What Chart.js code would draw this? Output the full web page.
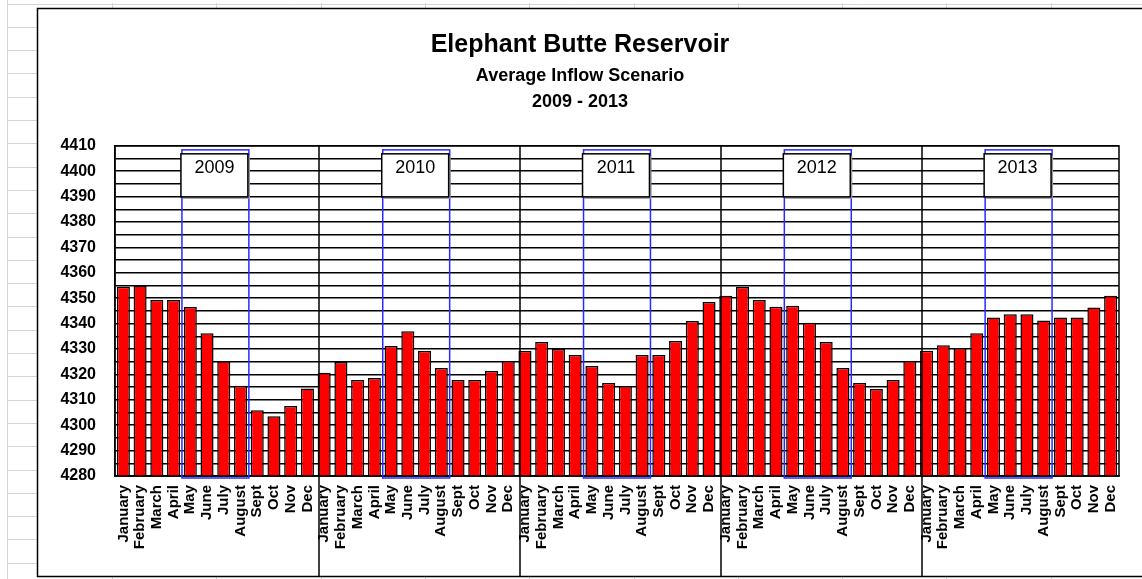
<!DOCTYPE html>
<html>
<head>
<meta charset="utf-8">
<title>Elephant Butte Reservoir</title>
<script src="https://cdn.jsdelivr.net/npm/chart.js@4"></script>
<style>
  html, body { margin: 0; padding: 0; background: #fff; }
  canvas { display: block; }
</style>
</head>
<body>
<canvas id="myChart" width="1142" height="579"></canvas>
<script>
const months = ['January', 'February', 'March', 'April', 'May', 'June',
    'July', 'August', 'Sept', 'Oct', 'Nov', 'Dec'];
const years = ['2009', '2010', '2011', '2012', '2013'];

// end-of-month elevation (ft)
const elev2009 = [4354.5, 4355, 4349.3, 4349.3, 4346.5, 4336.2, 4325.2, 4315.5, 4305.9, 4303.5, 4307.6, 4314.5];
const elev2010 = [4320.7, 4324.9, 4317.8, 4318.6, 4331.2, 4337, 4329.2, 4322.5, 4317.8, 4317.8, 4321.3, 4325.3];
const elev2011 = [4329.2, 4332.8, 4330, 4327.6, 4323.3, 4316.6, 4315.4, 4327.6, 4327.6, 4333.2, 4341, 4348.5];
const elev2012 = [4351, 4354.4, 4349.3, 4346.6, 4347, 4340.3, 4332.8, 4322.5, 4316.6, 4314.3, 4317.8, 4325.3];
const elev2013 = [4329.3, 4331.5, 4330.4, 4336.2, 4342.4, 4343.7, 4343.7, 4341.2, 4342.4, 4342.4, 4346.3, 4351];

const yMin = 4280;
const yMax = 4410;

const labels = [].concat(months, months, months, months, months);
const values = [].concat(elev2009, elev2010, elev2011, elev2012, elev2013);

const FONT = '"Liberation Sans", Arial, sans-serif';

// spreadsheet look behind the chart + the chart frame
const sheetBackground = {
    id: 'sheetBackground',
    beforeDraw(chart) {
        const ctx = chart.ctx;
        const w = chart.width, h = chart.height;
        ctx.save();
        ctx.fillStyle = '#fff';
        ctx.fillRect(0, 0, w, h);
        ctx.strokeStyle = '#d4d4d4';
        ctx.lineWidth = 1;
        ctx.beginPath();
        for (let yy = 3.5; yy < h; yy += 23.3) {
            ctx.moveTo(7, Math.round(yy) + 0.5);
            ctx.lineTo(yy < 8 ? w : 37, Math.round(yy) + 0.5);
        }
        ctx.moveTo(7.5, 0);
        ctx.lineTo(7.5, h);
        for (let xx = 112; xx < w; xx += 104.3) {
            ctx.moveTo(Math.round(xx) + 0.5, 3);
            ctx.lineTo(Math.round(xx) + 0.5, 8);
            ctx.moveTo(Math.round(xx) + 0.5, 577);
            ctx.lineTo(Math.round(xx) + 0.5, h);
        }
        ctx.stroke();
        ctx.fillStyle = '#fff';
        ctx.fillRect(38, 9, w, 567);
        ctx.strokeStyle = '#000';
        ctx.lineWidth = 1.5;
        ctx.strokeRect(37.5, 8.5, w, 568);
        ctx.restore();
    }
};

// blue May-August boxes, year tags and year separators
const yearBoxes = {
    id: 'yearBoxes',
    afterDatasetsDraw(chart) {
        const {ctx, chartArea} = chart;
        const x = chart.scales.x;
        const half = (x.getPixelForValue(1) - x.getPixelForValue(0)) / 2;
        ctx.save();
        // plot frame
        ctx.strokeStyle = '#000';
        ctx.lineWidth = 1.5;
        ctx.strokeRect(chartArea.left, chartArea.top, chartArea.right - chartArea.left, chartArea.bottom - chartArea.top);
        years.forEach((yr, i) => {
            const left = x.getPixelForValue(i * 12 + 4) - half;
            const right = x.getPixelForValue(i * 12 + 7) + half;
            const top = chartArea.top + 4;
            const bottom = chartArea.bottom + 2;
            ctx.strokeStyle = '#2a2aff';
            ctx.lineWidth = 1.5;
            ctx.strokeRect(left, top, right - left, bottom - top);

            const bx = left - 1, by = chartArea.top + 8, bw = right - left, bh = 43;
            ctx.fillStyle = '#999';
            ctx.fillRect(bx + 2, by + 2, bw, bh);
            ctx.fillStyle = '#fff';
            ctx.fillRect(bx, by, bw, bh);
            ctx.strokeStyle = '#000';
            ctx.strokeRect(bx, by, bw, bh);
            ctx.fillStyle = '#000';
            ctx.font = '18px ' + FONT;
            ctx.textAlign = 'center';
            ctx.textBaseline = 'middle';
            ctx.fillText(yr, bx + bw / 2, by + 14);

            if (i > 0) {
                const sx = Math.round(x.getPixelForValue(i * 12) - half + 3.5);
                ctx.strokeStyle = '#000';
                ctx.lineWidth = 1.5;
                ctx.beginPath();
                ctx.moveTo(sx, chartArea.top);
                ctx.lineTo(sx, 576);
                ctx.stroke();
            }
        });
        ctx.restore();
    }
};

const data = {
    labels: labels,
    datasets: [{
        label: 'Elevation',
        data: values,
        backgroundColor: '#ff0000',
        borderColor: '#000',
        borderWidth: 1.5,
        categoryPercentage: 1,
        barPercentage: 0.78,
    }]
};

const config = {
    type: 'bar',
    data: data,
    options: {
        responsive: false,
        animation: false,
        layout: {
            padding: { left: 41, right: 23, top: 8, bottom: 2 }
        },
        plugins: {
            legend: { display: false },
            tooltip: { enabled: false },
            title: {
                display: true,
                text: 'Elephant Butte Reservoir',
                color: '#000',
                font: { family: FONT, size: 25, weight: 'bold', lineHeight: 1.2 },
                padding: { top: 22, bottom: 0 }
            },
            subtitle: {
                display: true,
                text: ['Average Inflow Scenario', '2009 - 2013'],
                color: '#000',
                font: { family: FONT, size: 18, weight: 'bold', lineHeight: 1.44 },
                padding: { top: 3, bottom: 31 }
            }
        },
        scales: {
            x: {
                grid: { display: false },
                border: { color: '#000', width: 1.5 },
                afterFit: (scale) => { scale.height = 101; },
                ticks: {
                    color: '#000',
                    autoSkip: false,
                    minRotation: 90,
                    maxRotation: 90,
                    padding: 1,
                    font: { family: FONT, size: 15, weight: 'bold' }
                }
            },
            y: {
                min: yMin,
                max: yMax,
                grid: { color: '#000', lineWidth: 1.5, drawTicks: false },
                border: { color: '#000', width: 1.5 },
                afterFit: (scale) => { scale.width = 74; },
                ticks: {
                    stepSize: 5,
                    autoSkip: false,
                    color: '#000',
                    padding: 19,
                    font: { family: FONT, size: 16, weight: 'bold' },
                    callback: (v) => (v % 10 === 0 ? v : '')
                }
            }
        }
    },
    plugins: [sheetBackground, yearBoxes]
};

const myChart = new Chart(
    document.getElementById('myChart'),
    config
);
</script>
</body>
</html>
